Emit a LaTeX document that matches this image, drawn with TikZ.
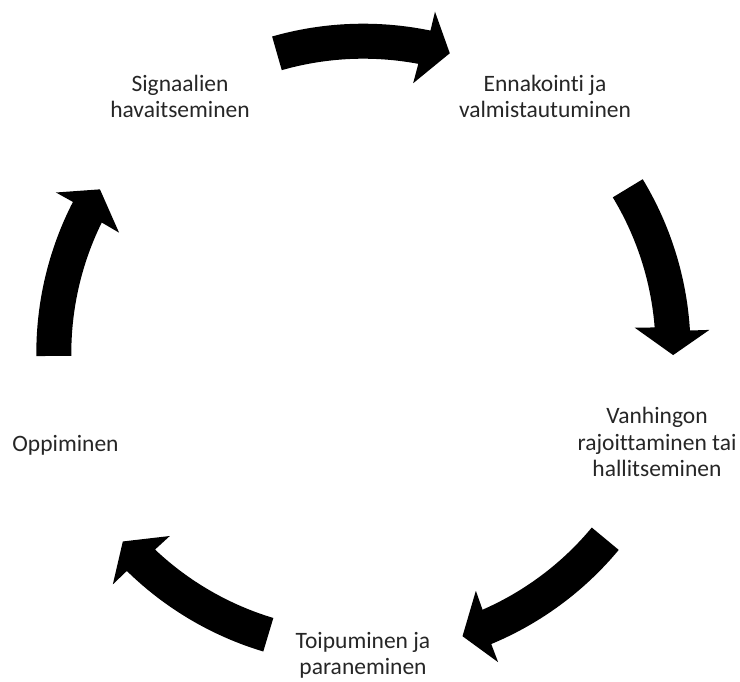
\documentclass[tikz,border=0pt]{standalone}
\usepackage{fontspec}
\setmainfont{Carlito}[Ligatures=NoCommon]

\newcommand{\cyclearrow}[3]{%
\fill[shift={(#1,#2)},rotate=#3] (106:331) arc[start angle=106,end angle=78.3,radius=331]
 -- (78.2:350.4) -- (74:313.6) -- (79.6:276) -- (79.3:296)
 arc[start angle=79.3,end angle=106,radius=296] -- cycle;}

\begin{document}
\begin{tikzpicture}[x=1pt,y=1pt,
 vaihe/.style={align=center,anchor=base,text=black!85,font=\fontsize{23.5}{26.5}\selectfont}]
\useasboundingbox (0,0) rectangle (740,682);
\node[vaihe] (signaalit) at (180,564) {Signaalien\\havaitseminen};
\node[vaihe] (ennakointi) at (545,564) {Ennakointi ja\\valmistautuminen};
\node[vaihe] (rajoittaminen) at (657,205) {Vanhingon\\rajoittaminen tai\\hallitseminen};
\node[vaihe] (toipuminen) at (363,7) {Toipuminen ja\\paraneminen};
\node[vaihe] (oppiminen) at (65.5,230) {Oppiminen};
\cyclearrow{363.35}{327.3}{0}
\cyclearrow{359.6}{331.3}{-74.8}
\cyclearrow{364.05}{343.5}{-145.7}
\cyclearrow{358.4}{347.5}{147.3}
\cyclearrow{367.3}{328.8}{74.5}
\end{tikzpicture}
\end{document}
